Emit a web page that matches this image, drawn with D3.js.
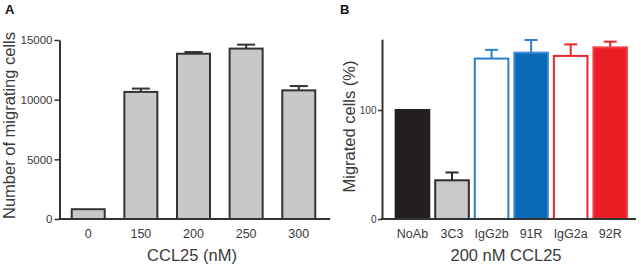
<!DOCTYPE html>
<html>
<head>
<meta charset="utf-8">
<script src="https://cdn.jsdelivr.net/npm/d3@7/dist/d3.min.js"></script>
<style>
body{margin:0;background:#fff;}
text{font-family:"Liberation Sans",Arial,sans-serif;fill:#3a3a3a;}
</style>
</head>
<body>
<div id="wrapper"></div>
<script>
// Panel A data
const concLabels = ["0", "150", "200", "250", "300"];
const migratingCells = [820, 10650, 13850, 14280, 10780];
const migratingErr = [0, 280, 140, 330, 360];
const yTicksA = [0, 5000, 10000, 15000];

// Panel B data
const abLabels = ["NoAb", "3C3", "IgG2b", "91R", "IgG2a", "92R"];
const migratedPct = [100, 35.5, 147.2, 152.6, 149.6, 157.5];
const migratedErr = [0, 7.2, 8.0, 11.6, 10.6, 5.2];
const yTicksB = [0, 100];
const fills = ["#231f20", "#c8c9cb", "#ffffff", "#0a69b4", "#ffffff", "#ec1c24"];
const strokes = ["#231f20", "#2d2d2d", "#2b7fcc", "#3a8ad4", "#e8262d", "#f0434a"];
const errColors = ["#231f20", "#2d2d2d", "#2b7fcc", "#2b7fcc", "#e8262d", "#e8262d"];

const width = 641, height = 265;
const svg = d3.select("#wrapper").append("svg")
  .attr("width", width).attr("height", height);

const axisColor = "#333";

// ---------- Panel A ----------
const xA = d3.scaleBand().domain(concLabels).range([61.9, 325.1])
  .paddingInner(0.335).paddingOuter(0.1675);
const yA = d3.scaleLinear().domain([0, 15000]).range([219, 40]);

const gA = svg.append("g");
const dataA = concLabels.map((c, i) => ({c, v: migratingCells[i], e: migratingErr[i]}));

// error bars (up only)
const errA = gA.selectAll(".errA").data(dataA.filter(d => d.e > 0)).enter().append("g");
errA.append("line")
  .attr("x1", d => xA(d.c) + xA.bandwidth() / 2).attr("x2", d => xA(d.c) + xA.bandwidth() / 2)
  .attr("y1", d => yA(d.v)).attr("y2", d => yA(d.v + d.e))
  .attr("stroke", axisColor).attr("stroke-width", 2);
errA.append("line")
  .attr("x1", d => xA(d.c) + xA.bandwidth() / 2 - 9).attr("x2", d => xA(d.c) + xA.bandwidth() / 2 + 9)
  .attr("y1", d => yA(d.v + d.e)).attr("y2", d => yA(d.v + d.e))
  .attr("stroke", axisColor).attr("stroke-width", 2);

gA.selectAll(".barA").data(dataA).enter().append("rect")
  .attr("x", d => xA(d.c) + 1).attr("y", d => yA(d.v))
  .attr("width", xA.bandwidth() - 2).attr("height", d => yA(0) - yA(d.v))
  .attr("fill", "#c8c8c8").attr("stroke", axisColor).attr("stroke-width", 2);

// y axis A
const yAxisA = gA.append("g").attr("transform", "translate(59.5,0)")
  .call(d3.axisLeft(yA).tickValues(yTicksA).tickFormat(d3.format("d"))
    .tickSize(5).tickSizeOuter(0).tickPadding(2));
yAxisA.select(".domain").attr("stroke", axisColor).attr("stroke-width", 2);
yAxisA.selectAll(".tick line").attr("stroke", axisColor).attr("stroke-width", 1.5);
yAxisA.selectAll(".tick text").attr("font-size", "11.5px").attr("font-family", null);

// x axis A
gA.append("line").attr("x1", 58.5).attr("x2", 330).attr("y1", yA(0)).attr("y2", yA(0))
  .attr("stroke", axisColor).attr("stroke-width", 2);
const xAxisA = gA.append("g").attr("transform", `translate(0,${yA(0)})`)
  .call(d3.axisBottom(xA).tickSize(0).tickPadding(10));
xAxisA.select(".domain").remove();
xAxisA.selectAll(".tick text").attr("font-size", "12.5px").attr("font-family", null);

gA.append("text").attr("x", 192).attr("y", 260.5).attr("text-anchor", "middle")
  .attr("font-size", "16.5px").text("CCL25 (nM)");
gA.append("text").attr("transform", "translate(15,125.5) rotate(-90)")
  .attr("text-anchor", "middle").attr("font-size", "16.5px").text("Number of migrating cells");
gA.append("text").attr("x", 5).attr("y", 14).attr("font-size", "13px")
  .attr("font-weight", "bold").style("fill", "#111").text("A");

// ---------- Panel B ----------
const xB = d3.scaleBand().domain(abLabels).range([392.7, 630])
  .paddingInner(0.1).paddingOuter(0.05);
const yB = d3.scaleLinear().domain([0, 165]).range([219, 39.15]);

const gB = svg.append("g");
const dataB = abLabels.map((c, i) => ({c, v: migratedPct[i], e: migratedErr[i], fill: fills[i], stroke: strokes[i], ec: errColors[i]}));

const errB = gB.selectAll(".errB").data(dataB.filter(d => d.e > 0)).enter().append("g");
errB.append("line")
  .attr("x1", d => xB(d.c) + xB.bandwidth() / 2).attr("x2", d => xB(d.c) + xB.bandwidth() / 2)
  .attr("y1", d => yB(d.v)).attr("y2", d => yB(d.v + d.e))
  .attr("stroke", d => d.ec).attr("stroke-width", 2);
errB.append("line")
  .attr("x1", d => xB(d.c) + xB.bandwidth() / 2 - 6.5).attr("x2", d => xB(d.c) + xB.bandwidth() / 2 + 6.5)
  .attr("y1", d => yB(d.v + d.e)).attr("y2", d => yB(d.v + d.e))
  .attr("stroke", d => d.ec).attr("stroke-width", 2);

gB.selectAll(".barB").data(dataB).enter().append("rect")
  .attr("x", d => xB(d.c) + 1).attr("y", d => yB(d.v))
  .attr("width", xB.bandwidth() - 2).attr("height", d => yB(0) - yB(d.v))
  .attr("fill", d => d.fill).attr("stroke", d => d.stroke).attr("stroke-width", 2);

const yAxisB = gB.append("g").attr("transform", "translate(382,0)")
  .call(d3.axisLeft(yB).tickValues(yTicksB).tickFormat(d3.format("d"))
    .tickSize(4).tickSizeOuter(0).tickPadding(1.5));
yAxisB.select(".domain").attr("stroke", axisColor).attr("stroke-width", 2);
yAxisB.selectAll(".tick line").attr("stroke", axisColor).attr("stroke-width", 1.5);
yAxisB.selectAll(".tick text").attr("font-size", "10px").attr("font-family", null);

gB.append("line").attr("x1", 381).attr("x2", 636).attr("y1", yB(0)).attr("y2", yB(0))
  .attr("stroke", axisColor).attr("stroke-width", 2);
const xAxisB = gB.append("g").attr("transform", `translate(0,${yB(0)})`)
  .call(d3.axisBottom(xB).tickSize(0).tickPadding(10));
xAxisB.select(".domain").remove();
xAxisB.selectAll(".tick text").attr("font-size", "12.5px").attr("font-family", null);

gB.append("text").attr("x", 506).attr("y", 261).attr("text-anchor", "middle")
  .attr("font-size", "16.5px").text("200 nM CCL25");
gB.append("text").attr("transform", "translate(355,126.5) rotate(-90)")
  .attr("text-anchor", "middle").attr("font-size", "16.5px").text("Migrated cells (%)");
gB.append("text").attr("x", 340).attr("y", 14).attr("font-size", "13px")
  .attr("font-weight", "bold").style("fill", "#111").text("B");
</script>
</body>
</html>
